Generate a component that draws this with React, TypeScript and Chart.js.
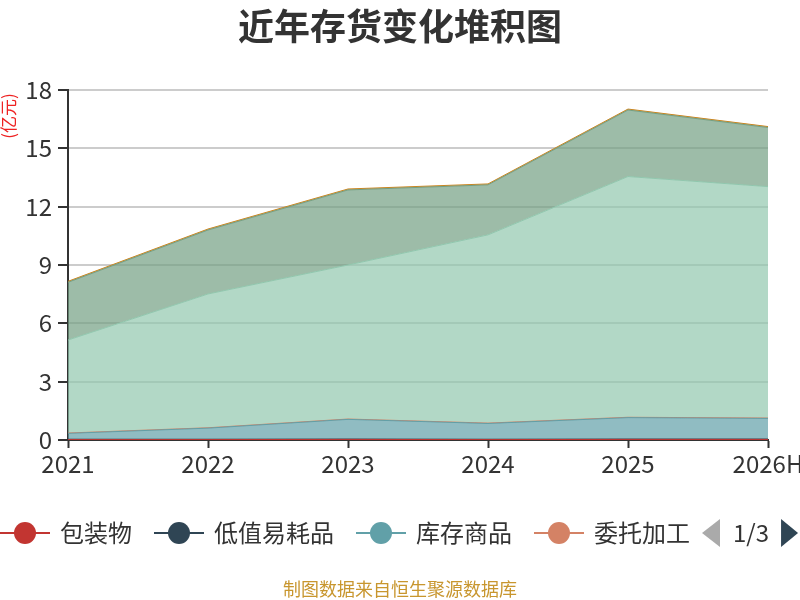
import React, { useEffect, useRef } from "react";
import { Chart, registerables } from "chart.js";

Chart.register(...registerables);

const FONT = "'Noto Sans CJK SC', 'Noto Sans', sans-serif";

const categories = ["2021", "2022", "2023", "2024", "2025", "2026H"];
const seriesNames = ["包装物", "低值易耗品", "库存商品", "委托加工", "原材料", "在产品", "发出商品", "自制半成品", "周转材料"];
const seriesColors = ["#c23531", "#2f4554", "#61a0a8", "#d48265", "#91c7ae", "#749f83", "#ca8622", "#bda29a", "#6e7074"];

const baozhuangwu = [0.02, 0.02, 0.03, 0.02, 0.03, 0.03];
const dizhiyihaopin = [0.02, 0.02, 0.02, 0.02, 0.02, 0.02];
const kucunshangpin = [0.3, 0.57, 1.01, 0.81, 1.1, 1.06];
const weituojiagong = [0.02, 0.02, 0.02, 0.02, 0.02, 0.02];
const yuancailiao = [4.78, 6.88, 7.92, 9.68, 12.38, 11.9];
const zaichanpin = [2.97, 3.29, 3.86, 2.57, 3.42, 3.04];
const fachushangpin = [0.05, 0.05, 0.05, 0.05, 0.05, 0.05];
const zizhibanchengpin = [null, null, null, null, null, null];
const zhouzhuancailiao = [null, null, null, null, null, null];

const seriesValues = [
  baozhuangwu,
  dizhiyihaopin,
  kucunshangpin,
  weituojiagong,
  yuancailiao,
  zaichanpin,
  fachushangpin,
  zizhibanchengpin,
  zhouzhuancailiao,
];

const yTicks = [0, 3, 6, 9, 12, 15, 18];
const titleText = "近年存货变化堆积图";
const unitText = "(亿元)";
const footerText = "制图数据来自恒生聚源数据库";
const legendPerPage = 4;
const legendPageText = "1/" + Math.ceil(seriesNames.length / legendPerPage);

function hexToRgba(hex: string, a: number) {
  const n = parseInt(hex.slice(1), 16);
  return `rgba(${(n >> 16) & 255},${(n >> 8) & 255},${n & 255},${a})`;
}

const decorPlugin = {
  id: "decor",
  afterDraw(chart: any) {
    const ctx = chart.ctx as CanvasRenderingContext2D;
    ctx.save();
    // title
    ctx.fillStyle = "#333";
    ctx.font = `bold 36px ${FONT}`;
    ctx.textAlign = "center";
    ctx.textBaseline = "middle";
    ctx.fillText(titleText, 400, 26);

    // unit
    ctx.save();
    ctx.translate(9, 116);
    ctx.rotate(-Math.PI / 2);
    ctx.font = `17px ${FONT}`;
    ctx.fillStyle = "#ee2222";
    ctx.fillText(unitText, 0, 0);
    ctx.restore();

    // legend
    const ly = 533;
    let x = 0;
    ctx.font = `24px ${FONT}`;
    ctx.textAlign = "left";
    ctx.textBaseline = "middle";
    for (let i = 0; i < legendPerPage; i++) {
      const c = seriesColors[i];
      ctx.strokeStyle = c;
      ctx.lineWidth = 2;
      ctx.beginPath();
      ctx.moveTo(x, ly);
      ctx.lineTo(x + 50, ly);
      ctx.stroke();
      ctx.fillStyle = c;
      ctx.beginPath();
      ctx.arc(x + 25, ly, 11, 0, Math.PI * 2);
      ctx.fill();
      ctx.fillStyle = "#333";
      ctx.fillText(seriesNames[i], x + 60, ly);
      const w = ctx.measureText(seriesNames[i]).width;
      x = x + 60 + w + (i === legendPerPage - 1 ? 12 : 22);
    }
    // pager
    const px = Math.min(x, 702);
    ctx.fillStyle = "#aaaaaa";
    ctx.beginPath();
    ctx.moveTo(px + 18, ly - 14);
    ctx.lineTo(px, ly);
    ctx.lineTo(px + 18, ly + 14);
    ctx.closePath();
    ctx.fill();
    ctx.fillStyle = "#333";
    ctx.fillText(legendPageText, px + 31, ly);
    const tw = ctx.measureText(legendPageText).width;
    const rx = px + 31 + tw + 12;
    ctx.fillStyle = "#2f4554";
    ctx.beginPath();
    ctx.moveTo(rx, ly - 14);
    ctx.lineTo(rx + 17, ly);
    ctx.lineTo(rx, ly + 14);
    ctx.closePath();
    ctx.fill();

    // footer
    ctx.font = `18px ${FONT}`;
    ctx.textAlign = "center";
    ctx.fillStyle = "#c8962e";
    ctx.fillText(footerText, 400, 589);
    ctx.restore();
  },
};

export default function App() {
  const ref = useRef<HTMLCanvasElement | null>(null);

  useEffect(() => {
    if (!ref.current) return;
    const datasets = seriesNames.map((name, i) => ({
      label: name,
      data: seriesValues[i],
      borderColor: seriesColors[i],
      backgroundColor: hexToRgba(seriesColors[i], 0.7),
      fill: i === 0 ? "origin" : "-1",
      pointRadius: 0,
      pointHoverRadius: 0,
      borderWidth: 1,
      tension: 0,
    }));
    const chart = new Chart(ref.current, {
      type: "line",
      data: { labels: categories, datasets: datasets as any },
      options: {
        responsive: false,
        animation: false,
        devicePixelRatio: 1,
        layout: { padding: { left: 0, right: 32, top: 90, bottom: 120 } },
        plugins: {
          legend: { display: false },
          tooltip: { enabled: false },
          title: { display: false },
        },
        scales: {
          x: {
            type: "category",
            offset: false,
            grid: {
              display: true,
              drawOnChartArea: false,
              drawTicks: true,
              tickLength: 8,
              tickColor: "#333",
              tickWidth: 2,
            },
            border: { display: true, color: "#333", width: 2 },
            ticks: {
              color: "#333",
              font: { size: 24, family: FONT },
              padding: 1,
              maxRotation: 0,
              autoSkip: false,
            },
            afterFit: (s: any) => {
              s.height = 40;
              s.paddingLeft = 0;
              s.paddingRight = 0;
            },
          },
          y: {
            stacked: true,
            min: 0,
            max: 18,
            grid: {
              color: "#cccccc",
              lineWidth: 2,
              tickColor: "#333",
              tickLength: 10,
              tickWidth: 2,
            },
            border: { display: true, color: "#333", width: 2 },
            ticks: {
              color: "#333",
              font: { size: 24, family: FONT },
              padding: 6,
              stepSize: 3,
            },
            afterBuildTicks: (s: any) => {
              s.ticks = yTicks.map((v) => ({ value: v }));
            },
            afterFit: (s: any) => {
              s.width = 68;
              s.paddingTop = 0;
              s.paddingBottom = 0;
            },
          },
        },
      },
      plugins: [decorPlugin],
    });
    return () => chart.destroy();
  }, []);

  return (
    <div style={{ position: "fixed", left: 0, top: 0, width: 800, height: 600, background: "#fff" }}>
      <canvas ref={ref} width={800} height={600} style={{ width: 800, height: 600, display: "block" }} />
    </div>
  );
}
